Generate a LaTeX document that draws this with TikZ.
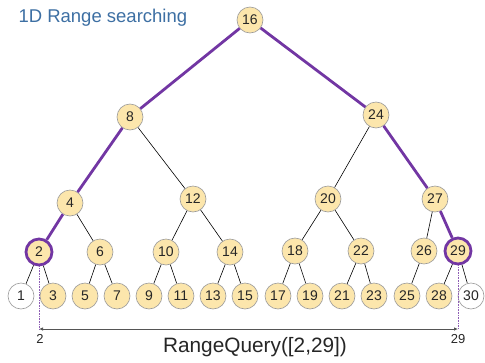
\documentclass[tikz,border=0pt]{standalone}
\usepackage{fontspec}
\setmainfont{Liberation Sans}
\usetikzlibrary{arrows.meta}
\definecolor{nodefill}{HTML}{FCE6AC}
\definecolor{nodeline}{HTML}{9A9A9A}
\definecolor{pathpurple}{HTML}{7236A3}
\definecolor{titleblue}{HTML}{3D6FA3}
\definecolor{axisgray}{HTML}{555555}
\tikzset{
  tn/.style={circle, minimum size=26pt, inner sep=0pt, fill=nodefill, draw=nodeline, line width=0.6pt, font=\fontsize{14}{16}\selectfont, text=black!85},
  wn/.style={tn, fill=white},
  hn/.style={tn, draw=pathpurple, line width=2.8pt, minimum size=26pt},
  edge/.style={black, line width=0.6pt},
  pedge/.style={pathpurple, line width=2.8pt},
  vdot/.style={pathpurple!80, line width=0.6pt, densely dotted},
  lbl/.style={font=\fontsize{13}{15}\selectfont, text=black!85}
}
\begin{document}
\begin{tikzpicture}[x=1pt, y=-1pt]
\useasboundingbox (0,0) rectangle (485,362);
\node[anchor=west, text=titleblue, font=\fontsize{18.5}{22}\selectfont] (title) at (15,18) {1D Range searching};
% internal nodes
\node[tn] (n16) at (250,20) {16};
\node[tn] (n8) at (130,117) {8};
\node[tn] (n24) at (376,115) {24};
\node[tn] (n4) at (70,203) {4};
\node[tn] (n12) at (193,199) {12};
\node[tn] (n20) at (328,199) {20};
\node[tn] (n27) at (435,199) {27};
\node[hn] (n2) at (39,252) {2};
\node[tn] (n6) at (100,252) {6};
\node[tn] (n10) at (166,252) {10};
\node[tn] (n14) at (230,252) {14};
\node[tn] (n18) at (295,251) {18};
\node[tn] (n22) at (361,251) {22};
\node[tn] (n26) at (424,251) {26};
\node[hn] (n29) at (458,251) {29};
% leaves
\node[wn] (n1) at (21,296) {1};
\node[tn] (n3) at (53,296) {3};
\node[tn] (n5) at (85,296) {5};
\node[tn] (n7) at (117,296) {7};
\node[tn] (n9) at (149,296) {9};
\node[tn] (n11) at (181,296) {11};
\node[tn] (n13) at (213,296) {13};
\node[tn] (n15) at (245,296) {15};
\node[tn] (n17) at (278,296) {17};
\node[tn] (n19) at (310,296) {19};
\node[tn] (n21) at (342,296) {21};
\node[tn] (n23) at (374,296) {23};
\node[tn] (n25) at (407,296) {25};
\node[tn] (n28) at (439,296) {28};
\node[wn] (n30) at (471,296) {30};
% edges
\draw[pedge] (n16) -- (n8);
\draw[pedge] (n16) -- (n24);
\draw[pedge] (n8) -- (n4);
\draw[edge] (n8) -- (n12);
\draw[pedge] (n4) -- (n2);
\draw[edge] (n4) -- (n6);
\draw[edge] (n12) -- (n10);
\draw[edge] (n12) -- (n14);
\draw[edge] (n24) -- (n20);
\draw[pedge] (n24) -- (n27);
\draw[edge] (n20) -- (n18);
\draw[edge] (n20) -- (n22);
\draw[edge] (n27) -- (n26);
\draw[pedge] (n27) -- (n29);
\draw[edge] (n2) -- (n1);
\draw[edge] (n2) -- (n3);
\draw[edge] (n6) -- (n5);
\draw[edge] (n6) -- (n7);
\draw[edge] (n10) -- (n9);
\draw[edge] (n10) -- (n11);
\draw[edge] (n14) -- (n13);
\draw[edge] (n14) -- (n15);
\draw[edge] (n18) -- (n17);
\draw[edge] (n18) -- (n19);
\draw[edge] (n22) -- (n21);
\draw[edge] (n22) -- (n23);
\draw[edge] (n26) -- (n25);
\draw[edge] (n29) -- (n28);
\draw[edge] (n29) -- (n30);
% range
\coordinate (a) at (39,329);
\coordinate (b) at (458,329);
\draw[vdot] (n2.south) -- (a);
\draw[vdot] (n29.south) -- (b);
\draw[axisgray, line width=0.8pt, {Latex[length=4pt,width=3.5pt]}-{Latex[length=4pt,width=3.5pt]}] (a) -- (b);
\node[lbl] (la) at (40,339) {2};
\node[lbl] (lb) at (458,339) {29};
\node[font=\fontsize{20.8}{24}\selectfont, text=black!85] (rq) at (255,347) {RangeQuery([2,29])};
\end{tikzpicture}
\end{document}
